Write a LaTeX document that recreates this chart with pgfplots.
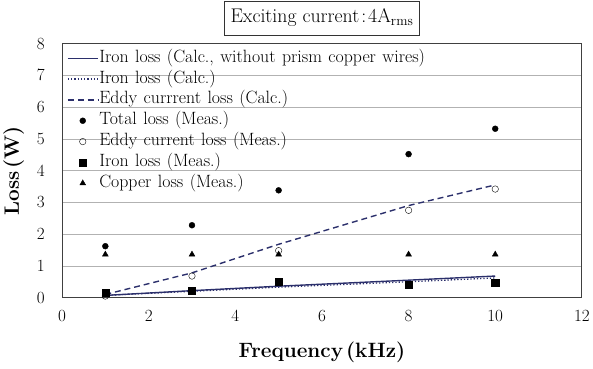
\documentclass[border=0pt]{standalone}
\usepackage{pgfplots}
\pgfplotsset{compat=1.18}
\definecolor{navy}{HTML}{2B2F6B}
\newcommand\legfont{\fontsize{18}{20}\selectfont\setlength{\spaceskip}{6.5bp plus 1bp}}
\newcommand\titfont{\fontsize{20}{22}\selectfont\setlength{\spaceskip}{6bp plus 1bp}}
\pgfplotsset{
  lineleg/.style={legend image code/.code={\draw[mark repeat=2,mark phase=2,##1] plot coordinates {(0bp,0bp)(15bp,0bp)(30bp,0bp)};}},
  markleg/.style={legend image code/.code={\draw[##1] plot coordinates {(15bp,0bp)};}},
}
\begin{document}
\begin{tikzpicture}
\begin{axis}[
  name=main,
  scale only axis, width=524bp, height=256bp,
  xmin=0, xmax=12, ymin=0, ymax=8,
  xtick={0,2,...,12}, ytick={0,1,...,8},
  major tick length=0pt,
  ticklabel style={font=\fontsize{17}{19}\selectfont},
  xticklabel style={yshift=-9bp},
  yticklabel style={xshift=-14bp},
  ymajorgrids, grid style={gray!60, line width=0.7pt},
  axis line style={black!75, line width=0.9pt},
  xlabel={\bfseries Frequency\hspace{3bp}(kHz)},
  ylabel={\bfseries Loss\hspace{3bp}(W)},
  label style={font=\fontsize{21}{23}\selectfont},
  xlabel style={yshift=-14bp},
  ylabel style={yshift=6bp},
  title={Exciting current\hspace{2bp}:\hspace{2bp}4A\textsubscript{rms}},
  title style={at={(0.5,1)}, anchor=south, yshift=2bp, draw=black!80,
    inner xsep=6bp, inner ysep=8bp, text height=14bp, text depth=5bp,
    font=\titfont},
  legend style={at={(0,1)}, anchor=north west, draw=none, fill=none,
    font=\legfont,
    row sep=0pt, inner sep=0pt, xshift=5bp, yshift=-4bp,
    nodes={inner xsep=1bp, inner ysep=2.5bp, text height=12bp, text depth=4bp}},
  legend cell align=left,
]
\addplot[navy, line width=1.4pt, lineleg] coordinates {(1,0.07)(3,0.22)(5,0.36)(8,0.55)(10,0.68)};
\addlegendentry{Iron loss (Calc., without prism copper wires)}
\addplot[navy, dotted, line width=1.3pt, lineleg] coordinates {(1,0.07)(3,0.2)(5,0.33)(8,0.5)(10,0.62)};
\addlegendentry{Iron loss (Calc.)}
\addplot[navy, dashed, dash pattern=on 6pt off 4pt, line width=1.4pt, lineleg] coordinates {(1,0.1)(3,0.78)(5,1.68)(8,2.9)(10,3.55)};
\addlegendentry{Eddy currrent loss (Calc.)}
\addplot[only marks, mark=*, mark size=3pt, black, markleg] coordinates {(1,1.62)(3,2.28)(5,3.38)(8,4.52)(10,5.32)};
\addlegendentry{Total loss (Meas.)}
\addplot[only marks, mark=o, mark size=3.3pt, black, mark options={fill=white}, markleg] coordinates {(1,0.05)(3,0.68)(5,1.48)(8,2.75)(10,3.42)};
\addlegendentry{Eddy current loss (Meas.)}
\addplot[only marks, mark=square*, mark size=3.6pt, black, markleg] coordinates {(1,0.16)(3,0.23)(5,0.5)(8,0.4)(10,0.48)};
\addlegendentry{Iron loss (Meas.)}
\addplot[only marks, mark=triangle*, mark size=3.4pt, black, markleg] coordinates {(1,1.36)(3,1.36)(5,1.36)(8,1.36)(10,1.36)};
\addlegendentry{Copper loss (Meas.)}
\end{axis}
\path (main.south west) ++(-62bp,-71bp);
\path (main.north east) ++(7bp,44bp);
\end{tikzpicture}
\end{document}
